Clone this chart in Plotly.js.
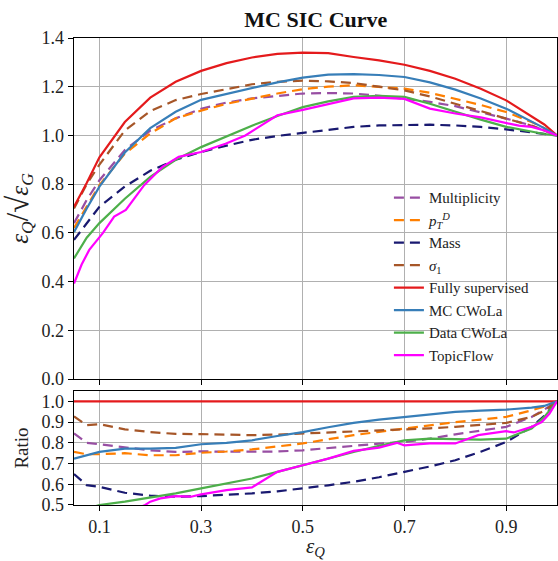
<!DOCTYPE html>
<html>
<head>
<meta charset="utf-8">
<script src="https://cdn.plot.ly/plotly-3.0.1.min.js"></script>
<style>html,body{margin:0;padding:0;background:#fff;}#chart{width:558px;height:561px;}</style>
</head>
<body>
<div id="chart"></div>
<script>
// ---- data ----
const seriesNames = ["Multiplicity", "<i>p</i><sub><i>T</i></sub><sup><i>D</i></sup>", "Mass", "<i>σ</i><sub>1</sub>", "Fully supervised", "MC CWoLa", "Data CWoLa", "TopicFlow"];

const effQ = [0.05,0.075,0.1,0.15,0.2,0.25,0.3,0.35,0.4,0.45,0.5,0.55,0.6,0.65,0.7,0.75,0.8,0.85,0.9,0.95,0.975,1.0];

const sicMultiplicity = [0.64,0.735,0.816,0.94,1.02,1.07,1.109,1.135,1.152,1.163,1.172,1.174,1.172,1.163,1.151,1.138,1.12,1.095,1.069,1.041,1.02,1.0];
const sicPtD          = [0.62,0.71,0.796,0.925,1.008,1.07,1.102,1.13,1.152,1.172,1.19,1.2,1.206,1.2,1.192,1.175,1.151,1.125,1.096,1.055,1.03,1.0];
const sicMass         = [0.571,0.64,0.707,0.79,0.855,0.9,0.932,0.958,0.982,0.998,1.01,1.022,1.035,1.041,1.044,1.044,1.041,1.035,1.025,1.014,1.007,1.0];
const sicSigma1       = [0.70,0.80,0.88,1.02,1.10,1.145,1.17,1.19,1.21,1.22,1.225,1.222,1.215,1.2,1.185,1.16,1.131,1.1,1.069,1.04,1.02,1.0];
const sicSupervised   = [0.707,0.805,0.91,1.055,1.155,1.22,1.265,1.297,1.32,1.335,1.34,1.338,1.322,1.308,1.29,1.265,1.233,1.192,1.144,1.08,1.045,1.0];
const sicMCCWoLa      = [0.603,0.70,0.79,0.93,1.03,1.097,1.146,1.17,1.194,1.218,1.237,1.25,1.252,1.248,1.24,1.218,1.188,1.152,1.11,1.058,1.03,1.0];
const sicDataCWoLa    = [0.495,0.58,0.64,0.74,0.83,0.90,0.952,0.996,1.04,1.08,1.116,1.14,1.158,1.162,1.158,1.13,1.096,1.065,1.035,1.014,1.006,1.0];

const effQTopic = [0.05,0.065,0.08,0.107,0.129,0.152,0.188,0.224,0.256,0.3,0.348,0.387,0.413,0.45,0.5,0.55,0.6,0.65,0.7,0.75,0.8,0.85,0.9,0.925,0.95,0.975,1.0];
const sicTopicFlow = [0.392,0.47,0.53,0.60,0.667,0.694,0.796,0.871,0.912,0.932,0.966,1.0,1.034,1.083,1.105,1.128,1.152,1.155,1.15,1.11,1.09,1.074,1.05,1.04,1.035,1.02,1.0];

// ratio panel
const ratioMultiplicity = [0.845,0.80,0.793,0.78,0.764,0.756,0.759,0.757,0.756,0.758,0.764,0.775,0.788,0.796,0.804,0.82,0.841,0.86,0.877,0.925,0.96,1.0];
const ratioPtD          = [0.756,0.745,0.745,0.75,0.74,0.74,0.752,0.758,0.768,0.782,0.797,0.817,0.837,0.853,0.869,0.885,0.9,0.912,0.925,0.957,0.975,1.0];
const ratioMass         = [0.649,0.596,0.588,0.559,0.545,0.54,0.543,0.548,0.556,0.566,0.58,0.595,0.612,0.634,0.66,0.686,0.716,0.757,0.804,0.877,0.93,1.0];
const ratioSigma1       = [0.928,0.885,0.89,0.865,0.852,0.843,0.842,0.84,0.837,0.84,0.845,0.848,0.852,0.858,0.864,0.87,0.877,0.886,0.896,0.925,0.955,1.0];
const ratioSupervised   = [1,1,1,1,1,1,1,1,1,1,1,1,1,1,1,1,1,1,1,1,1,1];
const ratioMCCWoLa      = [0.724,0.74,0.756,0.772,0.772,0.776,0.793,0.80,0.812,0.833,0.852,0.875,0.896,0.912,0.925,0.938,0.949,0.955,0.96,0.97,0.978,1.0];
const ratioDataCWoLa    = [0.46,0.48,0.5,0.516,0.535,0.556,0.58,0.605,0.628,0.66,0.692,0.725,0.756,0.785,0.812,0.82,0.816,0.815,0.82,0.869,0.925,1.0];

const effQTopicRatio = [0.15,0.19,0.2,0.22,0.25,0.28,0.3,0.35,0.4,0.43,0.45,0.5,0.55,0.6,0.65,0.685,0.7,0.75,0.8,0.845,0.9,0.915,0.95,0.97,0.985,1.0];
const ratioTopicFlow = [0.46,0.5,0.516,0.532,0.543,0.54,0.551,0.572,0.585,0.63,0.66,0.692,0.724,0.761,0.777,0.8,0.788,0.797,0.797,0.837,0.856,0.85,0.877,0.9,0.94,1.0];

const xTicks = [0.1,0.3,0.5,0.7,0.9];

// ---- styles ----
const colors = ["#984ea3","#ff7f00","#191970","#a65628","#e41a1c","#377eb8","#4daf4a","#ff00ff"];
const dashes = ["10px,6px","10px,6px","10px,6px","10px,6px","solid","solid","solid","solid"];
const topY = [sicMultiplicity,sicPtD,sicMass,sicSigma1,sicSupervised,sicMCCWoLa,sicDataCWoLa,sicTopicFlow];
const topX = [effQ,effQ,effQ,effQ,effQ,effQ,effQ,effQTopic];
const botY = [ratioMultiplicity,ratioPtD,ratioMass,ratioSigma1,ratioSupervised,ratioMCCWoLa,ratioDataCWoLa,ratioTopicFlow];
const botX = [effQ,effQ,effQ,effQ,effQ,effQ,effQ,effQTopicRatio];

const traces = [];
for (let i = 0; i < seriesNames.length; i++) {
  traces.push({x: topX[i], y: topY[i], name: seriesNames[i], type: 'scatter', mode: 'lines',
    line: {color: colors[i], width: 2.2, dash: dashes[i]}, xaxis: 'x', yaxis: 'y', showlegend: true});
}
for (let i = 0; i < seriesNames.length; i++) {
  traces.push({x: botX[i], y: botY[i], name: seriesNames[i], type: 'scatter', mode: 'lines',
    line: {color: colors[i], width: 2.2, dash: dashes[i]}, xaxis: 'x2', yaxis: 'y2', showlegend: false});
}

const FONT = "Liberation Serif";
const axisCommon = {showline: true, linecolor: '#000', linewidth: 1.3, mirror: true,
  showgrid: true, gridcolor: '#b0b0b0', gridwidth: 1, zeroline: false,
  ticks: 'outside', ticklen: 5, tickcolor: '#000', tickwidth: 1,
  tickfont: {family: FONT, size: 18, color: '#222'}};

const layout = {
  width: 558, height: 561,
  margin: {l: 74, r: 1, t: 38, b: 56},
  paper_bgcolor: '#fff', plot_bgcolor: '#fff',
  font: {family: FONT, color: '#222'},
  title: {text: '<b>MC SIC Curve</b>', font: {family: FONT, size: 22, color: '#111'},
          x: 0.566, xanchor: 'center', y: 0.965, yanchor: 'middle'},
  showlegend: true,
  legend: {x: 0.652, xanchor: 'left', y: 0.693, yanchor: 'top', bgcolor: 'rgba(0,0,0,0)', borderwidth: 0,
           font: {family: FONT, size: 15, color: '#222'}, tracegroupgap: 0},
  xaxis: Object.assign({}, axisCommon, {domain: [0,1], range: [0.05, 1.0], anchor: 'y',
           tickvals: xTicks, showticklabels: false}),
  yaxis: Object.assign({}, axisCommon, {domain: [0.2698, 1], range: [0, 1.4], anchor: 'x',
           tickvals: [0,0.2,0.4,0.6,0.8,1.0,1.2,1.4], ticktext: ['0.0','0.2','0.4','0.6','0.8','1.0','1.2','1.4'],
           title: {text: "<i>ε</i><sub><i>Q</i></sub><span style='font-size:31px'>/√</span><i>ε</i><sub><i>G</i></sub>",
                   font: {family: FONT, size: 25, color: '#222'}, standoff: 8}}),
  xaxis2: Object.assign({}, axisCommon, {domain: [0,1], range: [0.05, 1.0], anchor: 'y2',
           tickvals: xTicks, ticktext: ['0.1','0.3','0.5','0.7','0.9']}),
  yaxis2: Object.assign({}, axisCommon, {domain: [0, 0.2441], range: [0.5, 1.05], anchor: 'x2',
           tickvals: [0.5,0.6,0.7,0.8,0.9,1.0], ticktext: ['0.5','0.6','0.7','0.8','0.9','1.0'],
           title: {text: 'Ratio', font: {family: FONT, size: 19, color: '#222'}, standoff: 8}}),
  annotations: [{text: '<i>ε</i><sub><i>Q</i></sub>', xref: 'paper', yref: 'paper', x: 0.5, y: -0.089,
                 xanchor: 'center', yanchor: 'middle', showarrow: false, borderpad: 0,
                 font: {family: FONT, size: 21, color: '#222'}}]
};

Plotly.newPlot('chart', traces, layout, {displayModeBar: false, staticPlot: true});
</script>
</body>
</html>
